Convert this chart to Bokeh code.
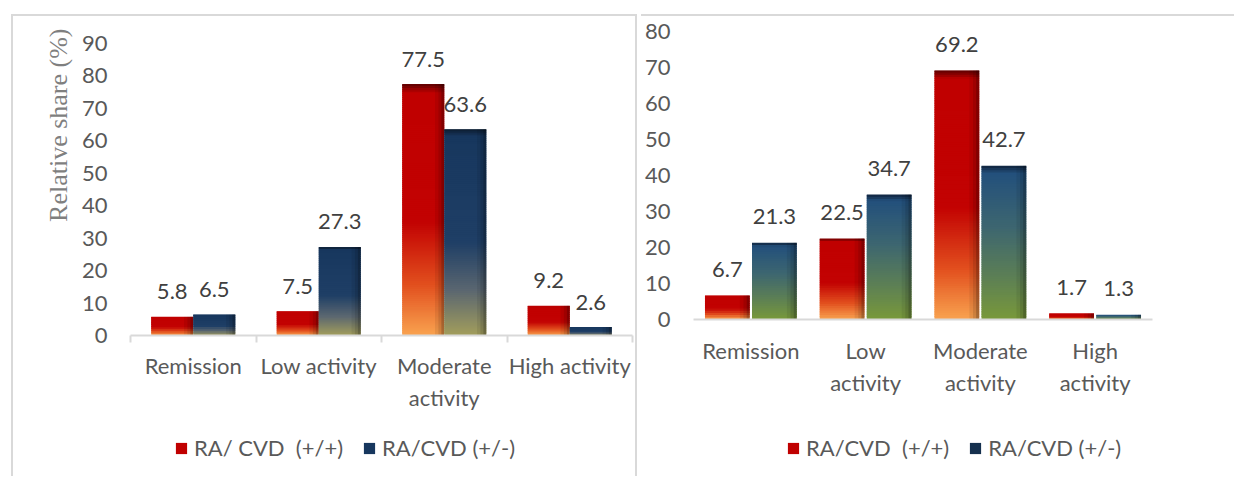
import numpy as np
from bokeh.plotting import figure
from bokeh.models import (ColumnDataSource, Range1d, FixedTicker, Legend,
                          LegendItem, Title)
from bokeh.embed import file_html
from bokeh.resources import INLINE
from bokeh.core.properties import value

# ---------------- data ----------------
categories_left = ["Remission", "Low activity", "Moderate\nactivity", "High activity"]
categories_right = ["Remission", "Low\nactivity", "Moderate\nactivity", "High\nactivity"]
left_pos_pos = [5.8, 7.5, 77.5, 9.2]      # RA/ CVD (+/+)
left_pos_neg = [6.5, 27.3, 63.6, 2.6]     # RA/CVD (+/-)
right_pos_pos = [6.7, 22.5, 69.2, 1.7]
right_pos_neg = [21.3, 34.7, 42.7, 1.3]
series_left = ["RA/ CVD  (+/+)", "RA/CVD (+/-)"]
series_right = ["RA/CVD  (+/+)", "RA/CVD (+/-)"]
left_yticks = [0, 10, 20, 30, 40, 50, 60, 70, 80, 90]
right_yticks = [0, 10, 20, 30, 40, 50, 60, 70, 80]
y_label = "Relative share (%)"

# ---------------- styles ----------------
FONT = "Lato"
TXT = "#595959"
GRID = "#d9d9d9"
RED_STOPS = [(0.0, "#5a0000"), (0.035, "#c00000"), (0.55, "#c20202"),
             (0.8, "#e2501e"), (1.0, "#f9a350")]
BLUE_LEFT = [(0.0, "#0d1c30"), (0.035, "#17375e"), (0.55, "#1f3f66"),
             (0.78, "#5a6670"), (1.0, "#a39e5c")]
BLUE_RIGHT = [(0.0, "#0f223b"), (0.05, "#23507c"), (0.4, "#3d6670"),
              (0.72, "#5c7f55"), (1.0, "#79993a")]


def hex2rgb(h):
    h = h.lstrip("#")
    return np.array([int(h[i:i + 2], 16) for i in (0, 2, 4)], dtype=float)


def grad(stops, t):
    for (t0, c0), (t1, c1) in zip(stops[:-1], stops[1:]):
        if t0 <= t <= t1:
            f = 0 if t1 == t0 else (t - t0) / (t1 - t0)
            c = hex2rgb(c0) * (1 - f) + hex2rgb(c1) * f
            return "#%02x%02x%02x" % tuple(int(round(v)) for v in c)
    return stops[-1][1]


def n_slices(v):
    # roughly 2 px per slice of the gradient
    return max(8, int(round(v * 1.6)))


def bar_slices(vals, offset, bw, stops):
    d = dict(left=[], right=[], bottom=[], top=[], color=[])
    for i, v in enumerate(vals):
        xc = i + 0.5 + offset
        n = n_slices(v)
        for k in range(n):
            d["left"].append(xc - bw / 2)
            d["right"].append(xc + bw / 2)
            d["bottom"].append(v * k / n)
            d["top"].append(v * min(k + 1.8, n) / n)
            d["color"].append(grad(stops, 1 - (k + 0.5) / n))
    return ColumnDataSource(d)


def shade_strips(vals, offset, bw):
    d = dict(left=[], right=[], bottom=[], top=[], alpha=[])
    for i, v in enumerate(vals):
        xc = i + 0.5 + offset
        x0 = xc - bw / 2
        for f0, f1, a in [(0.78, 0.86, 0.07), (0.86, 0.93, 0.17), (0.93, 1.0, 0.32)]:
            d["left"].append(x0 + bw * f0)
            d["right"].append(x0 + bw * f1)
            d["bottom"].append(0)
            d["top"].append(v)
            d["alpha"].append(a)
    return ColumnDataSource(d)


def panel(cats, s1, s2, yticks, width, height, borders, bw, off,
          blue_stops, boundary_ticks, x_standoff, lab_off, css):
    p = figure(width=width, height=height, x_range=Range1d(0, len(cats)),
               y_range=Range1d(0, yticks[-1]), output_backend="svg",
               toolbar_location=None, min_border_top=borders[0],
               min_border_right=borders[1], min_border_bottom=borders[2],
               min_border_left=borders[3],
               background_fill_color="white", border_fill_color="white",
               styles=css)
    p.outline_line_color = None
    p.xgrid.visible = False
    p.ygrid.visible = False

    xa = p.xaxis[0]
    centers = [i + 0.5 for i in range(len(cats))]
    xa.ticker = FixedTicker(ticks=centers,
                            minor_ticks=list(range(len(cats) + 1)) if boundary_ticks else [])
    xa.major_label_overrides = {c: lab for c, lab in zip(centers, cats)}
    xa.axis_line_color = GRID
    xa.axis_line_width = 2
    xa.major_tick_out = 0
    xa.major_tick_in = 0
    xa.minor_tick_in = 0
    xa.minor_tick_out = 7 if boundary_ticks else 0
    xa.minor_tick_line_color = GRID
    xa.minor_tick_line_width = 2
    xa.major_label_standoff = x_standoff
    xa.major_label_text_font = FONT
    xa.major_label_text_font_size = "22px"
    xa.major_label_text_color = TXT

    ya = p.yaxis[0]
    ya.ticker = FixedTicker(ticks=yticks)
    ya.axis_line_color = None
    ya.major_tick_out = 0
    ya.major_tick_in = 0
    ya.minor_tick_out = 0
    ya.minor_tick_in = 0
    ya.major_label_standoff = 23
    ya.major_label_text_font = FONT
    ya.major_label_text_font_size = "22px"
    ya.major_label_text_color = TXT

    for vals, o, stops in [(s1, -off, RED_STOPS), (s2, off, blue_stops)]:
        src = bar_slices(vals, o, bw, stops)
        p.quad(left="left", right="right", bottom="bottom", top="top",
               source=src, fill_color="color", line_color=None)
        sh = shade_strips(vals, o, bw)
        p.quad(left="left", right="right", bottom="bottom", top="top",
               source=sh, fill_color="black", fill_alpha="alpha",
               line_color=None)
        lab = ColumnDataSource(dict(x=[i + 0.5 + o for i in range(len(vals))],
                                    y=vals, t=["%.1f" % v for v in vals]))
        p.text(x="x", y="y", text="t", source=lab, text_font=value(FONT),
               text_font_size="22px", text_color="#404040", text_align="center",
               text_baseline="middle", y_offset=lab_off)
    return p


def legend_box(names, series, stops_list, left, top, width):
    # the series renderers live here too, but the y-range keeps them out of view;
    # they only feed the legend swatches
    lf = figure(width=width, height=30, x_range=Range1d(0, 4), y_range=Range1d(-2, -1),
                x_axis_type=None, y_axis_type=None, toolbar_location=None,
                output_backend="svg", min_border=0,
                styles={"position": "absolute", "left": "%dpx" % left, "top": "%dpx" % top})
    lf.outline_line_color = None
    lf.grid.visible = False
    items = []
    for name, vals, stops in zip(names, series, stops_list):
        r = lf.quad(left="left", right="right", bottom="bottom", top="top",
                    source=bar_slices(vals, 0, 0.3, stops), fill_color="color",
                    line_color=None)
        n0 = n_slices(vals[0])
        items.append(LegendItem(label=name, renderers=[r], index=n0 - 1))
    lf.add_layout(Legend(items=items, orientation="horizontal", location="top_left",
                         glyph_width=14, glyph_height=14, label_standoff=6,
                         spacing=19, padding=0, margin=0,
                         label_text_font=FONT, label_text_font_size="22px",
                         label_text_color=TXT, border_line_color=None,
                         background_fill_alpha=0))
    return lf


H = 462
BORDER = "2px solid " + GRID
p1 = panel(categories_left, left_pos_pos, left_pos_neg, left_yticks,
           626, H, (27, 7, 143, 117), 0.335, 0.1675, BLUE_LEFT, True, 9, -25,
           {"position": "absolute", "left": "11px", "top": "14px",
            "border-left": BORDER, "border-top": BORDER, "border-right": BORDER})
p1.add_layout(Title(text=y_label, align="right", offset=-15, standoff=12,
                    text_font="Liberation Serif", text_font_size="26px",
                    text_font_style="normal", text_color="#7f7f7f"), "left")

p2 = panel(categories_right, right_pos_pos, right_pos_neg, right_yticks,
           593, H, (15, 82, 159, 50), 0.39, 0.205, BLUE_RIGHT, False, 17, -26,
           {"position": "absolute", "left": "641px", "top": "14px",
            "border-top": BORDER})

leg1 = legend_box(series_left, [left_pos_pos, left_pos_neg], [RED_STOPS, BLUE_LEFT],
                  174, 434, 360)
leg2 = legend_box(series_right, [right_pos_pos, right_pos_neg], [RED_STOPS, BLUE_RIGHT],
                  786, 434, 360)

open("out.html", "w").write(file_html([p1, p2, leg1, leg2], INLINE))
